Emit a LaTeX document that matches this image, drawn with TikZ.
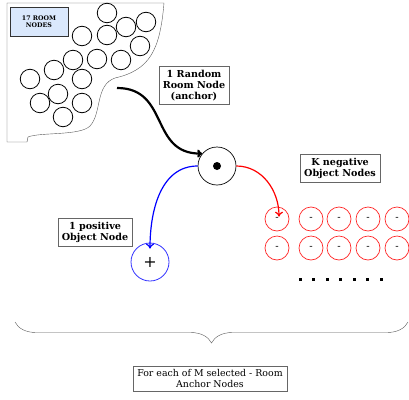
\documentclass[tikz,border=0pt]{standalone}
\usepackage{fontspec}
\setmainfont{DejaVu Serif}
\usetikzlibrary{positioning,arrows.meta,decorations.pathreplacing}
\definecolor{roomfill}{RGB}{218,232,252}
\begin{document}
\begin{tikzpicture}
        [x=1pt, y=-1pt,
          tag/.style={draw=gray!80!black, fill=white, align=center, inner xsep=4pt, inner ysep=3.5pt,
            font=\bfseries\fontsize{9.6}{11.3}\selectfont},
          room/.style={circle, draw, line width=0.8pt, minimum size=19.5pt, inner sep=0pt},
          neg/.style={circle, draw=red!85, line width=0.7pt, minimum size=24pt, inner sep=0pt,
            font=\fontsize{10}{10}\selectfont},
          flow/.style={-{To[length=5pt,width=8pt]}, line width=1.2pt}]
        \useasboundingbox (0,0) rectangle (409,399);
        % room outline and the room nodes
        \draw[gray!70!black] (7,3) -- (164,3) .. controls (160,50) and (150,70) .. (115,78)
          .. controls (95,85) and (102,113) .. (90,126) .. controls (80,136) and (40,132) .. (28,137)
          -- (27,142) -- (7,142) -- cycle;
        \node[draw=black!80, fill=roomfill, minimum width=58pt, minimum height=29pt, align=center,
          font=\bfseries\fontsize{6.3}{7.5}\selectfont] (count) at (39,21.5) {17 ROOM\\NODES};
        \foreach \x/\y [count=\i] in {107/13, 146/22, 126/27, 82/36, 107/35, 140/46, 73/60, 97/59,
            121/60, 54/70, 82/79, 30/79, 58/94, 40/103, 82/103, 63/117}
          \node[room] (r\i) at (\x,\y) {};
        \coordinate (pick) at (117,88);
        \node[tag] (picklabel) at (194,85.5) {1 Random\\Room Node\\(anchor)};
        % anchor
        \node[circle, draw, line width=0.7pt, minimum size=38pt] (anchor) at (217,166) {};
        \fill (anchor.center) circle (4pt);
        \draw[flow, line width=2.2pt] (pick) to[out=0, in=180, looseness=1.25] (anchor.140);
        % positive side
        \node[circle, draw=blue!80, line width=0.8pt, minimum size=38pt, inner sep=0pt,
          font=\fontsize{16}{16}\selectfont] (pos) at (150,262) {+};
        \node[tag] (poslabel) at (95,232.5) {1 positive\\Object Node};
        \draw[flow, blue] (anchor.west) to[out=180, in=90] ([yshift=-6pt]pos.north);
        % negative side
        \foreach \x [count=\i] in {277, 311, 339, 368, 397} {
          \node[neg] (n1\i) at (\x,219) {-};
          \node[neg] (n2\i) at (\x,248) {-};
        }
        \node[tag] (neglabel) at (340,168.5) {K negative\\Object Nodes};
        \draw[flow, red] (anchor.east) to[out=0, in=90] ([xshift=2pt, yshift=-10pt]n11.north);
        \foreach \i in {0,...,6}
          \fill (300+13.5*\i-1.5, 277.5) rectangle ++(3,3);
        % brace and the note below
        \coordinate (bl) at (15,322);
        \coordinate (br) at (408,322);
        \draw[gray!70!black, decorate, decoration={brace, mirror, amplitude=21pt}] (bl) -- (br);
        \node[draw=gray!80!black, align=center, inner xsep=4pt, inner ysep=3.5pt,
          font=\fontsize{9.4}{10.5}\selectfont] (note) at (210,378.5)
          {For each of M selected - Room\\Anchor Nodes};
      \end{tikzpicture}
\end{document}
